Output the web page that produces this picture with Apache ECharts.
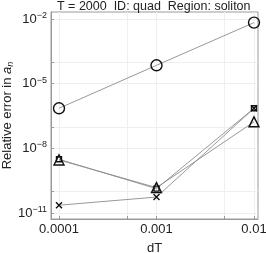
<!DOCTYPE html>
<html>
<head>
<meta charset="utf-8">
<script src="https://cdn.jsdelivr.net/npm/echarts@6/dist/echarts.min.js"></script>
<style>html,body{margin:0;padding:0;background:#fff}#c{width:266px;height:253px}</style>
</head>
<body>
<div id="c"></div>
<script>
const xValues = [0.0001, 0.001, 0.01];
const circleVals = [7.2e-7, 7.1e-5, 6.8e-3];
const squareVals = [3.1e-9, 1.35e-10, 7.2e-7];
const triangleVals = [2.9e-9, 1.5e-10, 1.7e-7];
const crossVals = [2.3e-11, 5.5e-11, 7.2e-7];
const xTickLabels = ['0.0001', '0.001', '0.01'];
const yTickExps = [-11, -8, -5, -2];
const xGridVals = [0.0001, 0.0005, 0.001, 0.005, 0.01];
const yGridExps = [-11, -10, -8, -7, -5, -4, -2];

const FONT = 'Liberation Sans, Arial, sans-serif';
const pairs = v => xValues.map((x, i) => [x, v[i]]);
const markerStyle = { color: 'rgba(0,0,0,0)', borderColor: '#111', borderWidth: 1.4 };
const lineStyle = { color: '#8c8c8c', width: 0.9 };

function mk(name, vals, symbol, size) {
  return {
    name, type: 'line', data: pairs(vals), symbol, symbolSize: size,
    showAllSymbol: true, itemStyle: markerStyle, lineStyle,
    emphasis: { disabled: true }, animation: false
  };
}

const chart = echarts.init(document.getElementById('c'), null, { renderer: 'canvas' });
chart.setOption({
  animation: false,
  title: {
    text: 'T = 2000  ID: quad  Region: soliton', left: 57, top: 0, padding: 0,
    textStyle: { fontFamily: FONT, fontSize: 12.5, fontWeight: 'normal', color: '#222' }
  },
  grid: { left: 51, right: 8, top: 12, bottom: 34, show: true, borderColor: '#9a9a9a', borderWidth: 1,
          containLabel: false, outerBoundsMode: 'none' },
  xAxis: {
    type: 'log', logBase: 10, min: Math.pow(10, -4.082), max: Math.pow(10, -1.959),
    name: 'dT', nameLocation: 'middle', nameGap: 23, nameMoveOverlap: false,
    nameTextStyle: { fontFamily: FONT, fontSize: 13, color: '#222' },
    axisLine: { show: true, lineStyle: { color: '#9a9a9a' } },
    axisTick: { show: true, inside: true, length: 3, customValues: xGridVals, lineStyle: { color: '#9a9a9a' } },
    axisLabel: {
      customValues: xValues, fontFamily: FONT, fontSize: 13, color: '#222', margin: 4,
      formatter: v => xTickLabels[xValues.findIndex(x => Math.abs(Math.log10(x) - Math.log10(v)) < 1e-6)] || ''
    },
    splitLine: { show: true, lineStyle: { color: '#efefef', width: 1 } },
    minorSplitLine: { show: false }
  },
  yAxis: {
    type: 'log', logBase: 10, min: Math.pow(10, -11.278), max: Math.pow(10, -1.675),
    name: 'Relative error in {i|a}{s|n}', nameLocation: 'middle', nameGap: 36, nameMoveOverlap: false,
    nameTextStyle: {
      fontFamily: FONT, fontSize: 13, color: '#222',
      rich: {
        i: { fontFamily: FONT, fontSize: 13, fontStyle: 'italic', color: '#222' },
        s: { fontFamily: FONT, fontSize: 9, fontStyle: 'italic', color: '#222', verticalAlign: 'bottom', padding: [6, 0, 0, 0] }
      }
    },
    axisLine: { show: true, lineStyle: { color: '#9a9a9a' } },
    axisTick: { show: true, inside: true, length: 3, customValues: yGridExps.map(e => Math.pow(10, e)), lineStyle: { color: '#9a9a9a' } },
    axisLabel: {
      customValues: yTickExps.map(e => Math.pow(10, e)), fontFamily: FONT, fontSize: 13, color: '#222', margin: 4,
      formatter: v => '{b|10}{p|' + Math.round(Math.log10(v)).toString().replace('-', '\u2212') + '}',
      rich: {
        b: { fontFamily: FONT, fontSize: 13, color: '#222' },
        p: { fontFamily: FONT, fontSize: 9, color: '#222', verticalAlign: 'top', padding: [0, 0, 7, 0] }
      }
    },
    splitLine: { show: true, lineStyle: { color: '#efefef', width: 1 } }
  },
  series: [
    mk('circle', circleVals, 'circle', 11),
    mk('square', squareVals, 'rect', 5),
    mk('triangle', triangleVals, 'triangle', [10, 10]),
    mk('cross', crossVals, 'path://M0,0L10,10M10,0L0,10', 6)
  ]
});
</script>
</body>
</html>
